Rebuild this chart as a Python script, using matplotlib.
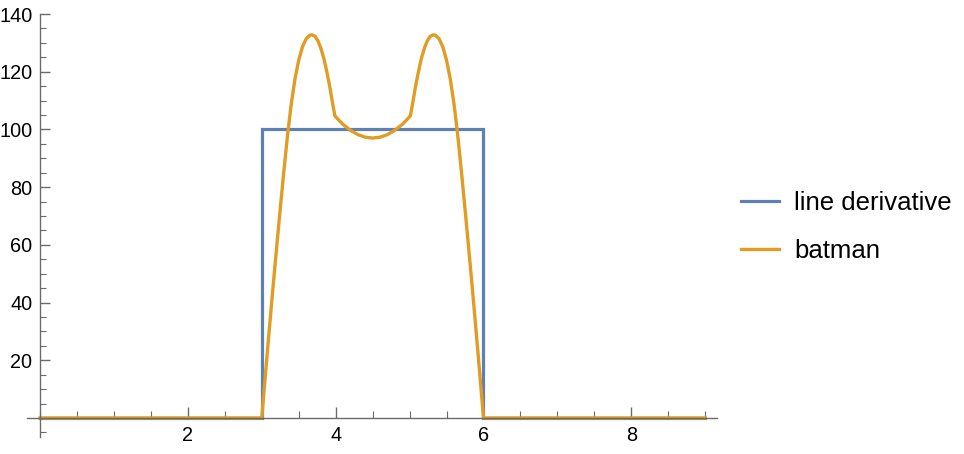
import numpy as np
import matplotlib.pyplot as plt
from matplotlib.ticker import MultipleLocator, FixedLocator

plt.rcParams['font.family'] = ['Liberation Sans', 'DejaVu Sans']

# step curve ("line derivative")
step_x = [0, 3, 3, 6, 6, 9]
step_y = [0, 0, 100, 100, 0, 0]

# "batman" curve, values
bat_x = [0, 3.0, 3.045, 3.09, 3.135, 3.18, 3.22, 3.26, 3.30, 3.35, 3.40,
         3.45, 3.50, 3.55, 3.60, 3.65, 3.677, 3.72, 3.76, 3.80, 3.84,
         3.88, 3.92, 3.96, 3.99, 4.0,
         4.05, 4.1, 4.2, 4.3, 4.4, 4.5, 4.6, 4.7, 4.8, 4.9, 4.95,
         5.0, 5.01, 5.04, 5.08, 5.12, 5.16, 5.20, 5.24, 5.28, 5.323, 5.35,
         5.40, 5.45, 5.50, 5.55, 5.60, 5.65, 5.70, 5.74, 5.78, 5.82,
         5.865, 5.91, 5.955, 6.0, 9]
bat_y = [0, 0, 13.7, 27.2, 40.4, 53.2, 64.3, 75.2, 85.8, 98.4, 109.0,
         117.6, 124.0, 128.6, 131.4, 132.6, 132.8, 132.3, 130.7, 128.1, 124.6,
         120.0, 114.8, 108.8, 104.6, 104.4,
         103, 101.7, 99.7, 98.2, 97.3, 97, 97.3, 98.2, 99.7, 101.7, 103,
         104.4, 104.6, 108.8, 114.8, 120.0, 124.6, 128.1, 130.7, 132.3, 132.8, 132.6,
         131.4, 128.6, 124.0, 117.6, 109.0, 98.4, 85.8, 75.2, 64.3, 53.2,
         40.4, 27.2, 13.7, 0, 0]

blue = '#5E81B5'
orange = '#E19C24'
axis_gray = '#6b6b6b'

fig = plt.figure(figsize=(9.64, 4.54), dpi=100)
ax = fig.add_axes([27 / 964, 1 - 437 / 454, (717 - 27) / 964, (437 - 14) / 454])

ax.plot(step_x, step_y, color=blue, lw=2.3, label='line derivative',
        solid_joinstyle='miter', clip_on=False)
ax.plot(bat_x, bat_y, color=orange, lw=2.4, label='batman', clip_on=False)

ax.set_xlim(-0.177, 9.16)
ax.set_ylim(-6.6, 140)

for side in ['top', 'right']:
    ax.spines[side].set_visible(False)
ax.spines['left'].set_position(('data', 0))
ax.spines['bottom'].set_position(('data', 0))
for side in ['left', 'bottom']:
    ax.spines[side].set_color(axis_gray)
    ax.spines[side].set_linewidth(1)

ax.xaxis.set_major_locator(FixedLocator([2, 4, 6, 8]))
ax.xaxis.set_minor_locator(MultipleLocator(0.5))
ax.yaxis.set_major_locator(FixedLocator([20, 40, 60, 80, 100, 120, 140]))
ax.yaxis.set_minor_locator(MultipleLocator(5))

ax.tick_params(axis='x', which='major', direction='in', length=8, width=1,
               color=axis_gray, pad=5.5, labelsize=14.3)
ax.tick_params(axis='x', which='minor', direction='in', length=5, width=0.8,
               color=axis_gray)
ax.tick_params(axis='y', which='major', direction='in', length=7, width=1,
               color=axis_gray, pad=5.5, labelsize=14.3)
ax.tick_params(axis='y', which='minor', direction='in', length=4, width=0.8,
               color=axis_gray)

ax.legend(loc='center left', bbox_to_anchor=(741 / 964, 1 - 227 / 454),
          bbox_transform=fig.transFigure, frameon=False, fontsize=18.5,
          handlelength=1.48, handletextpad=0.58, labelspacing=0.92,
          borderpad=0, borderaxespad=0)

fig.savefig('out.png', dpi=100)
